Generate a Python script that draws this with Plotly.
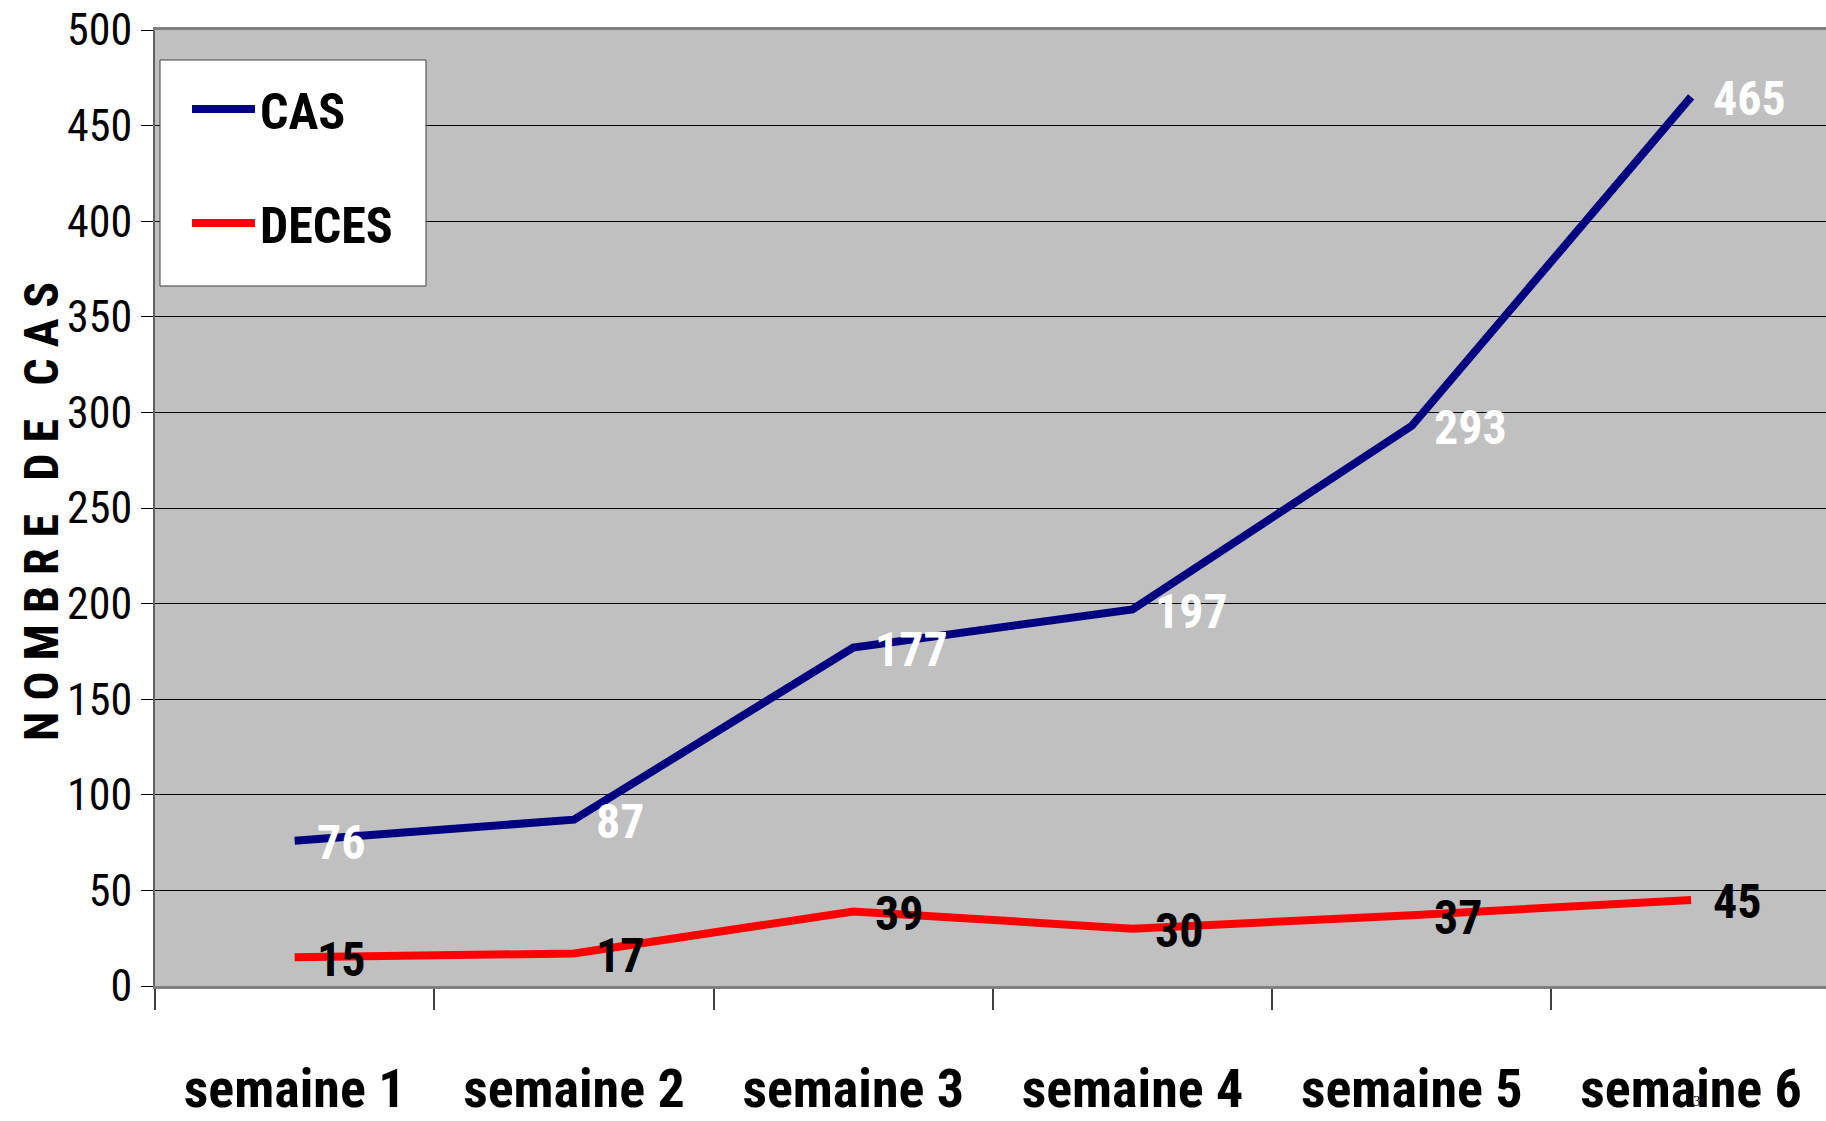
import plotly.graph_objects as go

categories = ["semaine 1", "semaine 2", "semaine 3", "semaine 4", "semaine 5", "semaine 6"]
cas = [76, 87, 177, 197, 293, 465]
deces = [15, 17, 39, 30, 37, 45]
y_ticks = [0, 50, 100, 150, 200, 250, 300, 350, 400, 450, 500]
y_title = "N O M B R E   D E   C A S"

NARROW = "Liberation Sans Narrow, Arial Narrow, Roboto Condensed, DejaVu Sans Condensed, Liberation Sans, Arial, sans-serif"

W, H = 1826, 1121
L, T, PW, PH = 155, 30, 1671, 956


def px(x):
    return (x - L) / PW


def py(y):
    return 1 - (y - T) / PH


fig = go.Figure()
fig.add_trace(go.Scatter(
    x=categories, y=cas, mode="lines", name="CAS",
    line=dict(color="#000080", width=8), legendgroup="a", cliponaxis=False,
))
fig.add_trace(go.Scatter(
    x=categories, y=deces, mode="lines", name="DECES",
    line=dict(color="#FF0000", width=8), legendgroup="b", cliponaxis=False,
))

for c, v in zip(categories, cas):
    fig.add_annotation(x=c, y=v, text=f"<b>{v}</b>", showarrow=False,
                       xanchor="left", yanchor="middle", xshift=20, yshift=-2,
                       font=dict(family=NARROW, size=48, color="white"))
for c, v in zip(categories, deces):
    fig.add_annotation(x=c, y=v, text=f"<b>{v}</b>", showarrow=False,
                       xanchor="left", yanchor="middle", xshift=20, yshift=-2,
                       font=dict(family=NARROW, size=48, color="black"))

# y-axis title
fig.add_annotation(x=px(42), y=py(512), xref="paper", yref="paper",
                   text=f"<b>{y_title}</b>", showarrow=False, textangle=-90,
                   xanchor="center", yanchor="middle",
                   font=dict(family=NARROW, size=48, color="black"))

# small stray glyph present in the source image
fig.add_annotation(x=px(1703), y=py(1111), xref="paper", yref="paper",
                   text="3", showarrow=False,
                   font=dict(family="Liberation Serif", size=15, color="black"))

# legend frame
fig.add_shape(type="rect", xref="paper", yref="paper",
              x0=px(160), x1=px(426), y0=py(286), y1=py(60),
              fillcolor="white", line=dict(color="#404040", width=1), layer="above")

fig.update_layout(
    width=W, height=H,
    margin=dict(l=L, r=0, t=T, b=H - T - PH),
    paper_bgcolor="white",
    plot_bgcolor="#C0C0C0",
    showlegend=True,
    legend=dict(
        x=px(187), y=py(70), xanchor="left", yanchor="top",
        bgcolor="rgba(0,0,0,0)", borderwidth=0,
        font=dict(family=NARROW, size=50, color="black", weight="bold"),
        traceorder="grouped", tracegroupgap=46, itemwidth=63,
    ),
    xaxis=dict(
        type="category", range=[-0.5, 5.483], automargin=False,
        tickson="boundaries", ticks="outside", ticklen=21, tickwidth=1.5, tickcolor="#404040",
        showline=True, linecolor="#808080", linewidth=3, mirror=True,
        showgrid=False, zeroline=False,
        tickfont=dict(family=NARROW, size=54, color="black", weight="bold"),
        ticklabelstandoff=53, ticklabeloverflow="allow",
    ),
    yaxis=dict(
        range=[0, 500], tickvals=y_ticks, ticks="outside", ticklen=12, tickwidth=1, tickcolor="black",
        showline=True, linecolor="#606060", linewidth=2, automargin=False,
        showgrid=True, gridcolor="black", gridwidth=1, zeroline=False,
        tickfont=dict(family=NARROW, size=44, color="black"),
        ticklabeloverflow="allow",
    ),
)

fig.write_html("out.html", config={"displayModeBar": False},
               post_script="document.body.style.margin='0';")
